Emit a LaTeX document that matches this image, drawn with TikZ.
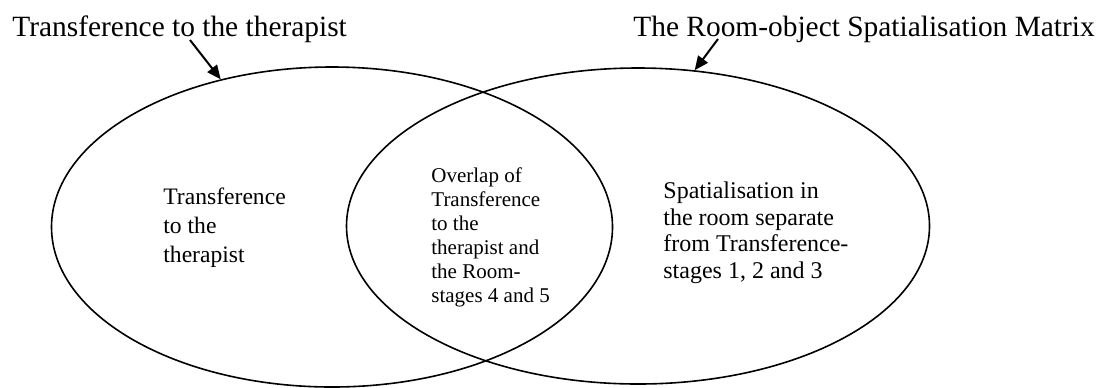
\documentclass[tikz,border=0pt]{standalone}
\usepackage{fontspec}
\setmainfont{Liberation Serif}
\usetikzlibrary{shapes.geometric,arrows.meta}

\begin{document}
\begin{tikzpicture}[x=.5pt,y=-.5pt,
 every node/.style={inner sep=0pt},
 heading/.style={font=\fontsize{14.7}{17}\selectfont,anchor=base west},
 setshape/.style={draw,ellipse,line width=.8pt},
 blocktext/.style={align=left,anchor=base west},
 pointer/.style={-{Triangle[length=7pt,width=6pt]},line width=1pt}]
 \useasboundingbox (0,0) rectangle (1101,387);
 % the two sets
 \node[setshape,minimum width=280.5pt,minimum height=160pt] (lset) at (332,227) {};
 \node[setshape,minimum width=291.5pt,minimum height=158pt] (rset) at (638,226) {};
 % headings and pointers
 \node[heading] (ltitle) at (12,36) {Transference to the therapist};
 \node[heading] (rtitle) at (633,36) {The Room-object Spatialisation Matrix};
 \coordinate (lfrom) at (190,40);
 \coordinate (rfrom) at (718,39);
 \draw[pointer] (lfrom) -- (lset.127);
 \draw[pointer] (rfrom) -- (rset.70);
 % texts inside (anchored at the last line)
 \node[blocktext,font=\fontsize{11.8}{14.5}\selectfont] (ltext) at (163,262)
  {Transference\\to the\\therapist};
 \node[blocktext,font=\fontsize{10.5}{12}\selectfont] (mtext) at (431,302)
  {Overlap of\\Transference\\to the\\therapist and\\the Room-\\stages 4 and 5};
 \node[blocktext,font=\fontsize{12}{13.2}\selectfont] (rtext) at (663,278)
  {Spatialisation in\\the room separate\\from Transference-\\stages 1, 2 and 3};
\end{tikzpicture}
\end{document}
